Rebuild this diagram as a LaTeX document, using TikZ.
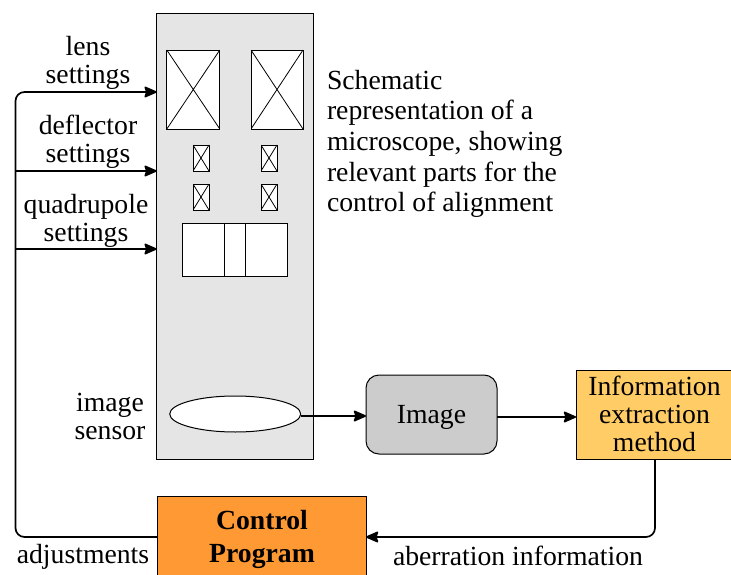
\documentclass[tikz,border=0pt]{standalone}
\usepackage{fontspec}
\setmainfont{Liberation Serif}
\usetikzlibrary{arrows.meta,shapes.geometric,calc}
\definecolor{bodygray}{HTML}{E5E5E5}
\definecolor{imagegray}{HTML}{CCCCCC}
\definecolor{infoorange}{HTML}{FFCC66}
\definecolor{controlorange}{HTML}{FF9933}
\tikzset{
  every node/.style={inner sep=0pt,outer sep=0pt},
  label text/.style={font=\fontsize{27.7}{28}\selectfont,align=center},
  coil/.style={draw,fill=white,line width=0.9pt,
    path picture={\draw[line width=0.8pt]
      (path picture bounding box.south west) -- (path picture bounding box.north east)
      (path picture bounding box.north west) -- (path picture bounding box.south east);}},
  link/.style={line width=1.7pt,rounded corners=9pt},
  arrowlink/.style={link,-{Stealth[length=14pt,width=12pt,inset=2pt,round=false]}},
}
\begin{document}
\begin{tikzpicture}[x=1pt,y=-1pt]
\clip (0,0) rectangle (731,575);
\node (scope) [draw,line width=1pt,fill=bodygray,minimum width=157pt,minimum height=445pt] at (235.2,236.5) {};
% lenses
\node (lensa) [coil,minimum width=53pt,minimum height=79pt] at (193.3,89.5) {};
\node (lensb) [coil,minimum width=52pt,minimum height=79pt] at (277,89.5) {};
% deflectors
\node (defa) [coil,minimum width=16pt,minimum height=26pt] at (201,158) {};
\node (defb) [coil,minimum width=16pt,minimum height=26pt] at (269,158) {};
\node (defc) [coil,minimum width=16pt,minimum height=26pt] at (201,197) {};
\node (defd) [coil,minimum width=16pt,minimum height=26pt] at (269,197) {};
% quadrupole
\node (quad) [draw,fill=white,line width=0.9pt,minimum width=105pt,minimum height=53pt] at (235.2,249.5) {};
\node (quadmid) [draw,line width=0.9pt,minimum width=21pt,minimum height=53pt] at (235.2,249.5) {};
\node (sensor) [draw,ellipse,fill=white,line width=1pt,minimum width=131pt,minimum height=36pt] at (235.2,414) {};
\node (image) [draw,fill=imagegray,line width=1pt,rounded corners=13pt,minimum width=131pt,minimum height=79pt] at (431.5,414.5) {};
\node (imagetext) [label text] at (431.5,417) {Image};
\node (info) [draw,fill=infoorange,line width=1pt,minimum width=175pt,minimum height=89pt,anchor=north west] at (576,370) {};
\node (infotext) [label text] at (654.5,413.5) {Information\\extraction\\method};
\node (control) [draw,fill=controlorange,line width=1pt,minimum width=209pt,minimum height=110pt,anchor=north west] at (157,496) {};
\node (controltext) [font=\fontsize{27.7}{33.5}\selectfont\bfseries,align=center] at (262,539.5) {Control\\Program};
% labels
\node (lenslabel) [label text] at (88,63) {lens\\settings};
\node (deflabel) [label text] at (88,142) {deflector\\settings};
\node (quadlabel) [label text] at (86,221) {quadrupole\\settings};
\node (sensorlabel) [label text] at (110,416) {image\\sensor};
\node (adjlabel) [label text] at (83,556.5) {adjustments};
\node (aberlabel) [label text] at (518,556) {aberration information};
\node (caption) [label text,font=\fontsize{27.7}{30.6}\selectfont,align=left,anchor=north west] at (327,70) {Schematic\\representation of a\\microscope, showing\\relevant parts for the\\control of alignment};
% connectors
\coordinate (lensin) at (scope.west |- 0,92);
\coordinate (defin) at (scope.west |- 0,171);
\coordinate (quadin) at (scope.west |- 0,249);
\coordinate (adjout) at (control.west |- 0,537);
\coordinate (busdef) at (15.5,171);
\coordinate (busquad) at (15.5,249);
\coordinate (aberin) at (control.east |- 0,537);
\coordinate (infoout) at (655,459);
\coordinate (sensorout) at (sensor.east |- 0,416);
\coordinate (imagein) at (image.west |- 0,416);
\coordinate (imageout) at (image.east |- 0,417);
\coordinate (infoin) at (info.west |- 0,417);
\draw [arrowlink] (adjout) -| (busquad) |- (lensin);
\draw [arrowlink] (busdef) -- (defin);
\draw [arrowlink] (busquad) -- (quadin);
\draw [arrowlink] (sensorout) -- (imagein);
\draw [arrowlink] (imageout) -- (infoin);
\draw [arrowlink] (infoout) |- (aberin);
\end{tikzpicture}
\end{document}
